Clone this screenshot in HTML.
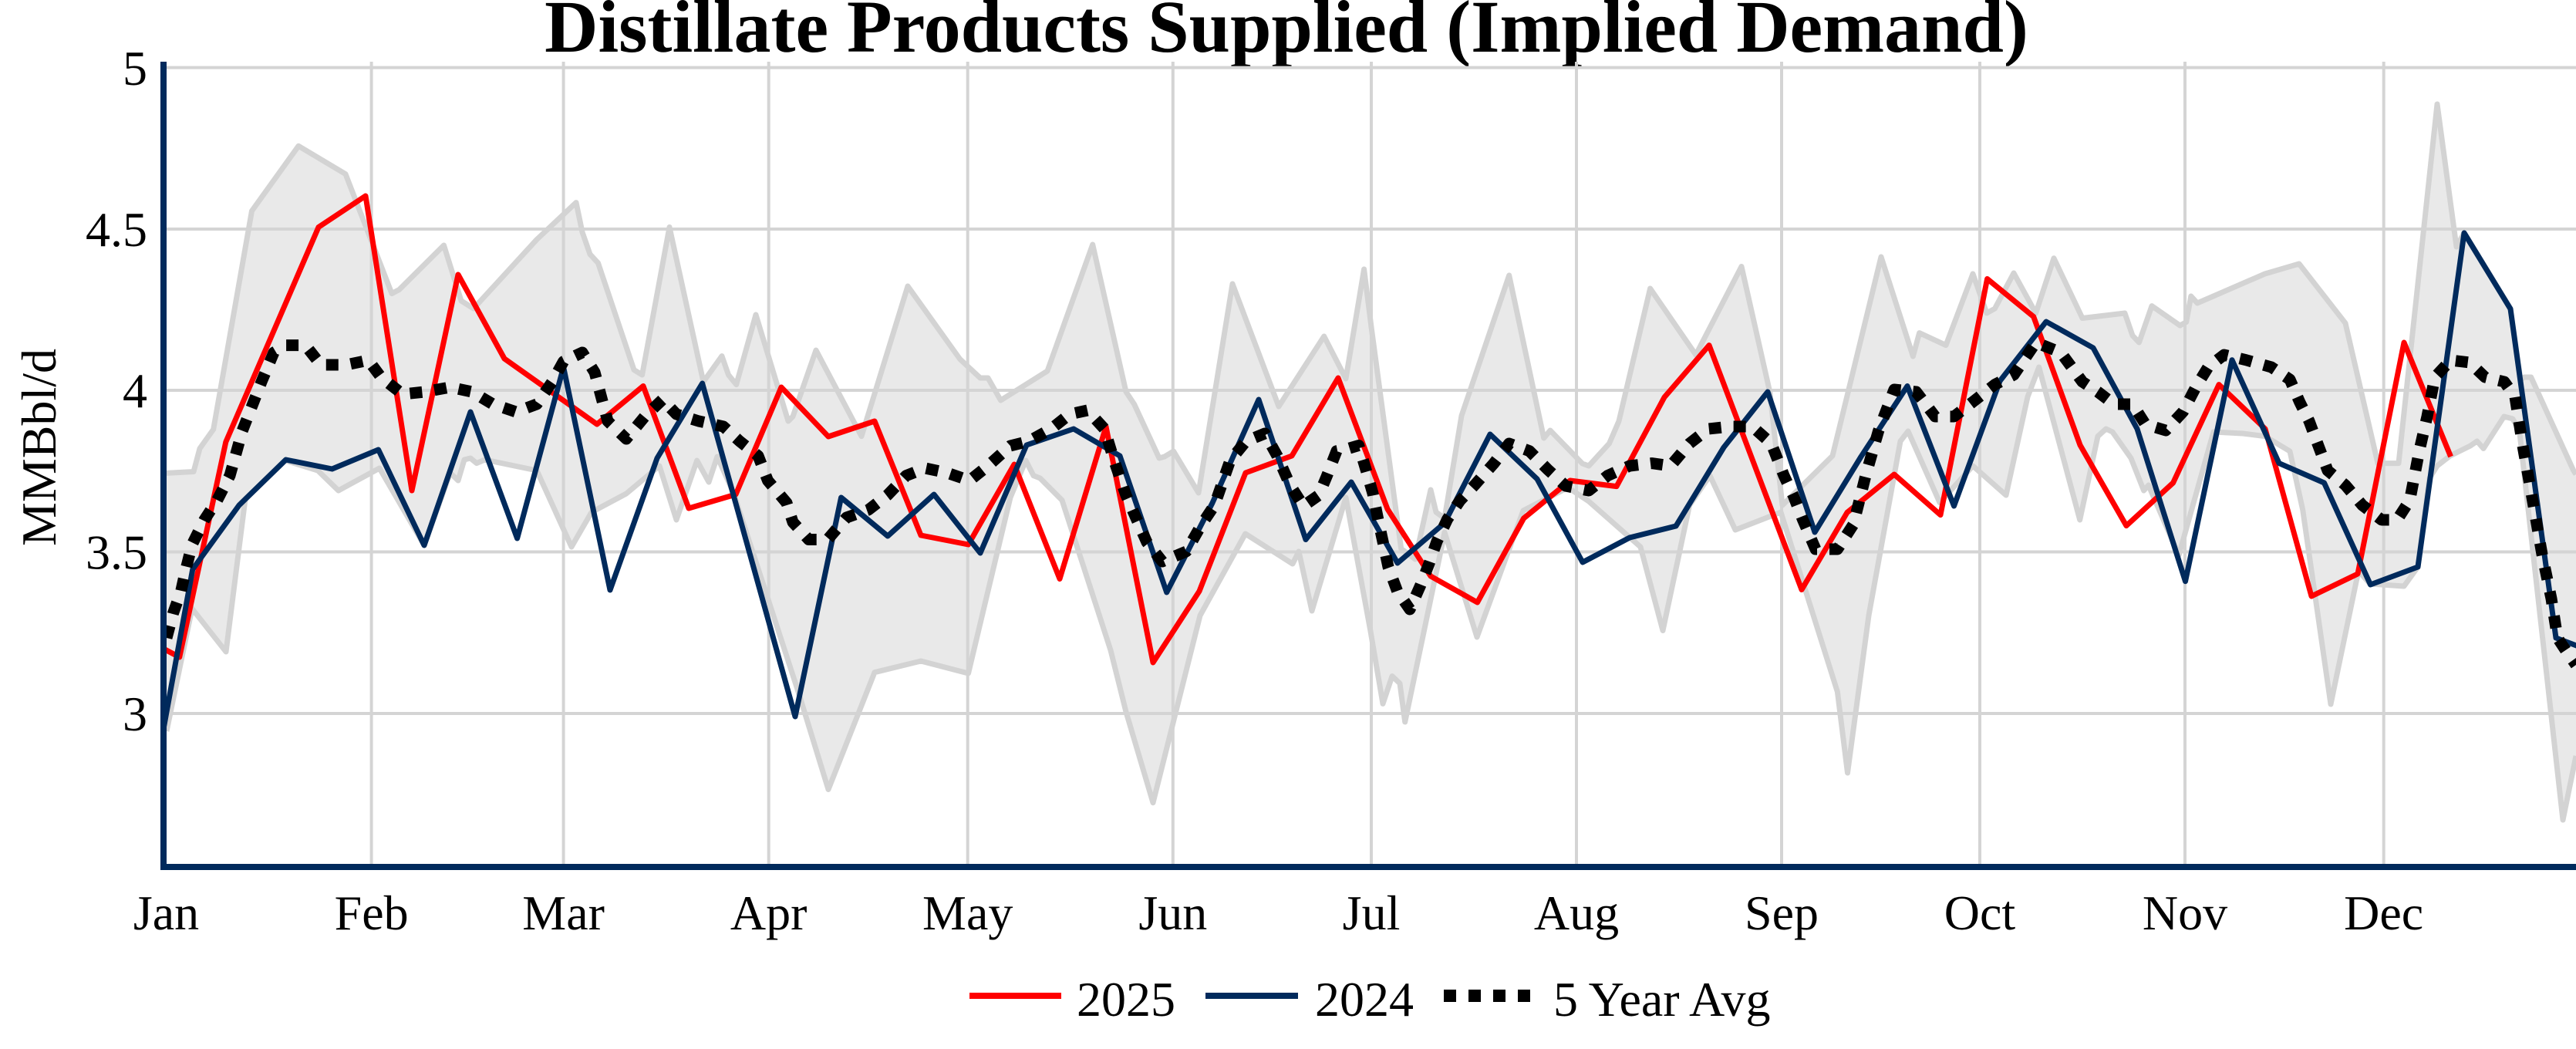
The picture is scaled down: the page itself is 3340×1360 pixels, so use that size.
<!DOCTYPE html>
<html>
<head>
<meta charset="utf-8">
<style>
  html, body { margin: 0; padding: 0; background: #ffffff; }
  svg { display: block; }
  text { font-family: "Liberation Serif", "Times New Roman", serif; fill: #000; }
</style>
</head>
<body>
<svg width="3340" height="1360" viewBox="0 0 3340 1360" xmlns="http://www.w3.org/2000/svg">
  <defs>
    <clipPath id="plot">
      <rect x="212" y="80" width="3128" height="1044"/>
    </clipPath>
  </defs>
  <rect x="0" y="0" width="3340" height="1360" fill="#ffffff"/>

  <!-- Title -->
  <text x="1668" y="67" font-size="96" font-weight="bold" text-anchor="middle">Distillate Products Supplied (Implied Demand)</text>

  <!-- Gridlines -->
  <g stroke="#d4d4d4" stroke-width="4" fill="none">
    <line x1="212" y1="87.6" x2="3340" y2="87.6"/>
    <line x1="212" y1="297" x2="3340" y2="297"/>
    <line x1="212" y1="506" x2="3340" y2="506"/>
    <line x1="212" y1="715.5" x2="3340" y2="715.5"/>
    <line x1="212" y1="925" x2="3340" y2="925"/>
    <line x1="481.6" y1="80" x2="481.6" y2="1124"/>
    <line x1="730.6" y1="80" x2="730.6" y2="1124"/>
    <line x1="996.7" y1="80" x2="996.7" y2="1124"/>
    <line x1="1254.7" y1="80" x2="1254.7" y2="1124"/>
    <line x1="1520.8" y1="80" x2="1520.8" y2="1124"/>
    <line x1="1778" y1="80" x2="1778" y2="1124"/>
    <line x1="2044" y1="80" x2="2044" y2="1124"/>
    <line x1="2310" y1="80" x2="2310" y2="1124"/>
    <line x1="2567" y1="80" x2="2567" y2="1124"/>
    <line x1="2833" y1="80" x2="2833" y2="1124"/>
    <line x1="3090.7" y1="80" x2="3090.7" y2="1124"/>
  </g>

  <g clip-path="url(#plot)">
    <!-- 5-year range band -->
    <polygon fill="rgba(211,211,211,0.5)" stroke="none" points="
216,613.4 251,611.5 259,581.5 276.7,556.6 326.5,273.5 387,189.3 448,225.6 508,380.6 517.6,375.5 575.5,318 598,390 614,400 696,310.5 747,262.6 755,301 765,329.6 775.5,341 822,479.5 832.6,486 868,294.5 912,495 936,461.6 944.5,486 954.7,498.6 980,408 1022,546 1028,540 1058,454 1117,565.6 1177,371 1244.5,465.4 1271,490 1281,490 1297.5,519 1358,481 1416.7,317 1460,508 1470.6,524 1503,594 1510,592 1521.6,585 1554,639 1598,368 1658,527 1716.7,436 1745,491 1768.6,349 1778,424 1816.7,711.5 1835,725 1855,635 1862,664 1873,672 1895,539 1956.7,357 2001.7,568 2010,558 2051.7,601 2060,604 2086.5,575 2099,546 2139.6,374 2198.8,460 2258,345.5 2294.7,508 2311,655 2376,591 2439,333 2480.4,462 2488.6,431.6 2523,447.6 2558,355 2576,406 2586.5,400 2611,354 2639.6,406 2663,334.7 2700,412.5 2755,406 2765,435 2773.5,444 2790,396.6 2826.5,422 2834.7,417.6 2840.8,384 2849,393 2936.7,355 2981,342 3041,419 3083,600.6 3110,600.6 3160,135 3185,320 3195,302 3255,400 3268,492 3273,489 3281.7,489 3336.7,610 3340,615
3340,980 3323,1063 3286.7,738 3266.7,559 3258,543 3246.7,540 3220,581.5 3211.7,572 3203,578 3176.7,591 3160,604 3150,620 3135,735 3117,760 3073,757 3058,740 3022,913 2985.7,661 2969,585 2936.7,565.6 2908,562 2870,560 2825,720 2785.7,629 2779.6,636 2763,594 2739,560 2730.6,556 2720,565.6 2696.7,674 2643.7,476 2629,514.5 2601,642 2558,604 2515,651.6 2474,559 2464,572 2423,798 2395.5,1002 2382.4,897 2309,664 2250,687 2217,616.6 2190.6,655 2156,817.5 2127,709 2060,650 2033,632 1975,662 1915,826 1873,690 1866.7,721 1821.7,936 1815,886 1805,876.6 1793,912.4 1776.7,816.7 1745,645 1701,792 1684,715 1676,731 1614.7,692 1556,798 1495,1040.7 1460,923 1440,843 1377,648.5 1348.6,620 1340,616.6 1330,597 1310,645 1255.5,873 1194,857 1134,871.7 1074,1023.5 1036,900 951,639 930,592 919,625 903.7,597 877,674 855,604 812,640 767,664 741,709 696,610 628.6,596 618,600.6 610,594 602,596 594,623 583.7,613 550,707 492,607 438.8,636 412,610 370,597 318,647 293,845 249,789 216,948"/>
    <!-- max line -->
    <polyline fill="none" stroke="#d3d3d3" stroke-width="7" stroke-linejoin="round" points="
216,613.4 251,611.5 259,581.5 276.7,556.6 326.5,273.5 387,189.3 448,225.6 508,380.6 517.6,375.5 575.5,318 598,390 614,400 696,310.5 747,262.6 755,301 765,329.6 775.5,341 822,479.5 832.6,486 868,294.5 912,495 936,461.6 944.5,486 954.7,498.6 980,408 1022,546 1028,540 1058,454 1117,565.6 1177,371 1244.5,465.4 1271,490 1281,490 1297.5,519 1358,481 1416.7,317 1460,508 1470.6,524 1503,594 1510,592 1521.6,585 1554,639 1598,368 1658,527 1716.7,436 1745,491 1768.6,349 1778,424 1816.7,711.5 1835,725 1855,635 1862,664 1873,672 1895,539 1956.7,357 2001.7,568 2010,558 2051.7,601 2060,604 2086.5,575 2099,546 2139.6,374 2198.8,460 2258,345.5 2294.7,508 2311,655 2376,591 2439,333 2480.4,462 2488.6,431.6 2523,447.6 2558,355 2576,406 2586.5,400 2611,354 2639.6,406 2663,334.7 2700,412.5 2755,406 2765,435 2773.5,444 2790,396.6 2826.5,422 2834.7,417.6 2840.8,384 2849,393 2936.7,355 2981,342 3041,419 3083,600.6 3110,600.6 3160,135 3185,320 3195,302 3255,400 3268,492 3273,489 3281.7,489 3336.7,610 3340,615"/>
    <!-- min line -->
    <polyline fill="none" stroke="#d3d3d3" stroke-width="7" stroke-linejoin="round" points="
216,948 249,789 293,845 318,647 370,597 412,610 438.8,636 492,607 550,707 583.7,613 594,623 602,596 610,594 618,600.6 628.6,596 696,610 741,709 767,664 812,640 855,604 877,674 903.7,597 919,625 930,592 951,639 1036,900 1074,1023.5 1134,871.7 1194,857 1255.5,873 1310,645 1330,597 1340,616.6 1348.6,620 1377,648.5 1440,843 1460,923 1495,1040.7 1556,798 1614.7,692 1676,731 1684,715 1701,792 1745,645 1776.7,816.7 1793,912.4 1805,876.6 1815,886 1821.7,936 1866.7,721 1873,690 1915,826 1975,662 2033,632 2060,650 2127,709 2156,817.5 2190.6,655 2217,616.6 2250,687 2309,664 2382.4,897 2395.5,1002 2423,798 2464,572 2474,559 2515,651.6 2558,604 2601,642 2629,514.5 2643.7,476 2696.7,674 2720,565.6 2730.6,556 2739,560 2763,594 2779.6,636 2785.7,629 2825,720 2870,560 2908,562 2936.7,565.6 2969,585 2985.7,661 3022,913 3058,740 3073,757 3117,760 3135,735 3150,620 3160,604 3176.7,591 3203,578 3211.7,572 3220,581.5 3246.7,540 3258,543 3266.7,559 3286.7,738 3323,1063 3340,980"/>

    <!-- 2025 -->
    <polyline fill="none" stroke="#ff0000" stroke-width="7" stroke-linejoin="round" points="
172.6,820 232.7,852 292.8,573 413,294.5 474,254 534,636 594,356 654,465 774,550 834,500.5 893,659 954,641 1013,502 1074,566 1134,546 1194,694 1255.5,706 1315,602 1374,750.5 1434,553 1495,859 1555,766.5 1615,613 1675,591 1735,490 1799,660 1855,747 1915.5,781 1975.6,672 2035.7,623 2096,630.6 2158,515 2216,447.6 2336,764.5 2395,664.4 2456,615 2516,667.6 2576.6,361.5 2636.7,410.6 2697,577 2757,681.6 2817.6,626 2877,498.6 2937,556 2997,773 3057,744 3117,444 3177.6,592"/>

    <!-- 2024 -->
    <polyline fill="none" stroke="#002a5c" stroke-width="7" stroke-linejoin="round" points="
189.7,1067 249.8,738 310,655 370.6,596 430.6,608 490.6,583 550,707 610,534 670.6,698 730.6,476 791,765 852,594 910.6,497 1031,929 1090.6,645 1151,695 1211,641 1271,717 1331,577 1392,556 1452,591 1512.7,768 1572,652 1632,518 1693,699.5 1752,625 1812,730 1873,678 1932,563 1993,621 2052,729 2113,697 2173,682 2235,580 2292,508 2353,690 2413,592 2473,500.5 2533.5,656 2593,494 2653,417 2714,451 2771,556 2833.5,753.7 2894,466.7 2955,600.6 3013.5,626 3073.5,758 3135,735 3195,302 3255,400.5 3314,827 3375,850"/>

    <!-- 5 Year Avg -->
    <polyline fill="none" stroke="#000000" stroke-width="15" stroke-dasharray="16,16" stroke-linejoin="round" points="
216,827 224.5,795 234.7,766.5 241,738 249,706 265,674 281.6,648.5 298,616.6 306,588 314,559 326.5,527 339,495 355,457 371,447.6 396,447.6 416,473 449,473 477.6,467 494,489 522,511 551,508 583.7,502 612,508 639,524 669,534 696,524 716,495 730.6,468.6 755,457 771,482.6 788,546 812,569 836,540 859,518 877,537 906,546 938,553 959,572 983,591 995.5,623 1020,652 1028,677 1048.6,699.5 1073,699.5 1097.5,671 1126,661 1150.6,642 1175,616.6 1199.6,607 1228,613 1257,623 1281,604 1310,578 1334,572 1363,556 1387,537 1410,532 1432,556 1444.5,597 1460,642 1472.7,671 1487,703 1507,728 1538,715 1558,680 1574.7,655 1595,597 1615.5,572 1640,562 1656,591 1672.7,629 1690,656 1710,642 1720,618 1733,584.7 1746.7,582 1761.7,577.5 1771.7,611 1780,639.7 1786.7,673 1793,702 1800,735 1811.7,766.5 1828,790 1841.7,759 1853,730.6 1863,702 1876.7,673 1893,649 1913,627.7 1936.7,601 1956.7,575 1983,584.7 2006.7,608.6 2030,630 2060,636 2084.5,616.6 2113,604 2141.6,600.6 2166,604 2190.6,575 2215,556 2243.7,553 2272,553 2296.7,575 2313,616.6 2325,642 2337.6,674 2354,712 2382.4,712 2403,680 2419,616.6 2435.5,559 2456,505 2484.5,508 2509,540 2533.5,540 2558,521 2586.5,498.6 2611,486 2639.6,444 2672,457 2700,495 2720,508 2741,524 2765,524 2781.6,550 2808,558 2830.6,533.7 2847,502 2863,476 2883.7,460 2912,466.7 2945,476 2969,492 2981.6,521 2994,546 3006,578 3018,610 3041,629 3063,655 3088,674 3108,674 3124.5,648.5 3136.7,585 3147,540 3157,489 3177.6,467 3202,470 3222,489 3247,495 3261,514.5 3271,578 3283.7,648.5 3296,718.6 3308,776 3316,827 3328.6,846 3340,862"/>
  </g>

  <!-- Axes -->
  <line x1="212" y1="80" x2="212" y2="1128" stroke="#002a5c" stroke-width="8"/>
  <line x1="208" y1="1124" x2="3340" y2="1124" stroke="#002a5c" stroke-width="8"/>

  <!-- Y tick labels -->
  <g font-size="64" text-anchor="end">
    <text x="191" y="110">5</text>
    <text x="191" y="319">4.5</text>
    <text x="191" y="528">4</text>
    <text x="191" y="737.5">3.5</text>
    <text x="191" y="947">3</text>
  </g>

  <!-- X tick labels -->
  <g font-size="64" text-anchor="middle">
    <text x="215.5" y="1205">Jan</text>
    <text x="481.6" y="1205">Feb</text>
    <text x="730.6" y="1205">Mar</text>
    <text x="996.7" y="1205">Apr</text>
    <text x="1254.7" y="1205">May</text>
    <text x="1520.8" y="1205">Jun</text>
    <text x="1778" y="1205">Jul</text>
    <text x="2044" y="1205">Aug</text>
    <text x="2310" y="1205">Sep</text>
    <text x="2567" y="1205">Oct</text>
    <text x="2833" y="1205">Nov</text>
    <text x="3090.7" y="1205">Dec</text>
  </g>

  <!-- Y axis title -->
  <text transform="translate(72,580) rotate(-90)" font-size="64" text-anchor="middle">MMBbl/d</text>

  <!-- Legend -->
  <line x1="1257" y1="1291" x2="1376" y2="1291" stroke="#ff0000" stroke-width="8"/>
  <text x="1396" y="1317" font-size="64">2025</text>
  <line x1="1563" y1="1291" x2="1683" y2="1291" stroke="#002a5c" stroke-width="8"/>
  <text x="1705" y="1317" font-size="64">2024</text>
  <line x1="1872" y1="1291" x2="1986" y2="1291" stroke="#000000" stroke-width="16" stroke-dasharray="16,16"/>
  <text x="2014" y="1317" font-size="64">5 Year Avg</text>
</svg>
</body>
</html>
